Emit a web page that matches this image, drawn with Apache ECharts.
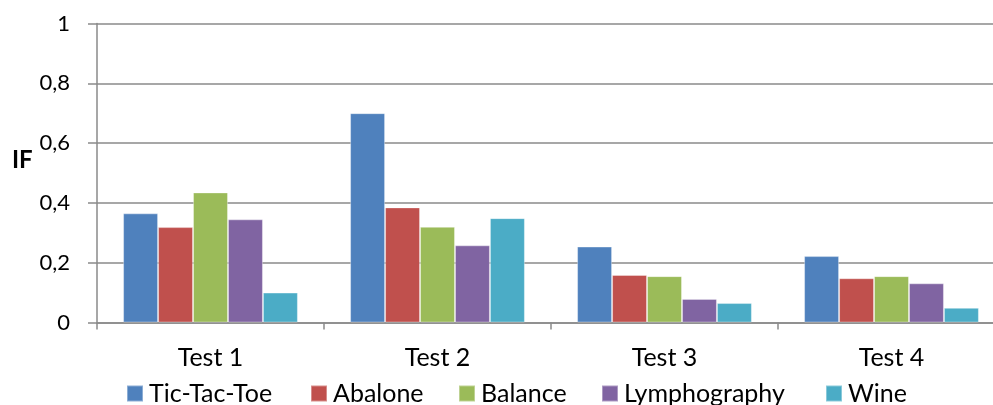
<!DOCTYPE html>
<html>
<head>
<meta charset="utf-8">
<script src="https://cdn.jsdelivr.net/npm/echarts@6/dist/echarts.min.js"></script>
<style>
  html, body { margin: 0; padding: 0; background: #fff; overflow: hidden; }
  /* the plot area runs a little past the right edge of the window */
  #chart { width: 1010px; height: 405px; }
</style>
</head>
<body>
<div id="chart"></div>
<script>
// Test runs on the x axis, one bar per dataset
const categories = ['Test 1', 'Test 2', 'Test 3', 'Test 4'];

const ticTacToe    = [0.365, 0.70, 0.254, 0.222];
const abalone      = [0.319, 0.385, 0.159, 0.148];
const balance      = [0.435, 0.320, 0.155, 0.155];
const lymphography = [0.345, 0.258, 0.079, 0.131];
const wine         = [0.100, 0.349, 0.065, 0.049];

const seriesNames = ['Tic-Tac-Toe', 'Abalone', 'Balance', 'Lymphography', 'Wine'];
const seriesData  = [ticTacToe, abalone, balance, lymphography, wine];
const colors = ['#4F81BD', '#C0504D', '#9BBB59', '#8064A2', '#4BACC6'];

const FONT = 'Lato, "Noto Sans", sans-serif';
const GRID_COLOR = '#8a8a8a';

// left edge of each legend entry's swatch
const legendLeft = [126, 310, 458, 601, 825];

const chart = echarts.init(document.getElementById('chart'), null, { renderer: 'canvas' });

chart.setOption({
  animation: false,
  color: colors,
  grid: { left: 97, right: 5, top: 23.5, bottom: 82.5, containLabel: false },
  legend: seriesNames.map((name, i) => ({
    left: legendLeft[i] - 5,
    top: 376,
    itemWidth: 16,
    itemHeight: 16,
    icon: 'rect',
    textStyle: { fontFamily: FONT, fontSize: 25, color: '#000', padding: [0, 0, 0, 1] },
    data: [name]
  })),
  graphic: [{
    type: 'text',
    left: 12,
    top: 148,
    style: { text: 'IF', font: 'bold 24px ' + FONT, fill: '#000' }
  }],
  xAxis: {
    type: 'category',
    data: categories,
    axisLine: { show: true, lineStyle: { color: GRID_COLOR, width: 1.5 } },
    axisTick: { show: true, length: 7, lineStyle: { color: GRID_COLOR, width: 1.5 } },
    axisLabel: { fontFamily: FONT, fontSize: 25, color: '#000', margin: 23 }
  },
  yAxis: {
    type: 'value',
    min: 0,
    max: 1,
    interval: 0.2,
    axisLine: { show: true, lineStyle: { color: GRID_COLOR, width: 1.5 } },
    axisTick: { show: true, length: 9, lineStyle: { color: GRID_COLOR, width: 1.5 } },
    splitLine: { show: true, lineStyle: { color: GRID_COLOR, width: 1.5 } },
    axisLabel: {
      fontFamily: FONT, fontSize: 22, color: '#000', margin: 27,
      formatter: v => (Math.round(v * 10) / 10).toString().replace('.', ',')
    }
  },
  series: seriesNames.map((name, i) => ({
    name,
    type: 'bar',
    data: seriesData[i],
    barGap: '0%',
    barCategoryGap: '23%',
    itemStyle: { color: colors[i], borderColor: 'rgba(255,255,255,0.35)', borderWidth: 1 }
  }))
});
</script>
</body>
</html>
